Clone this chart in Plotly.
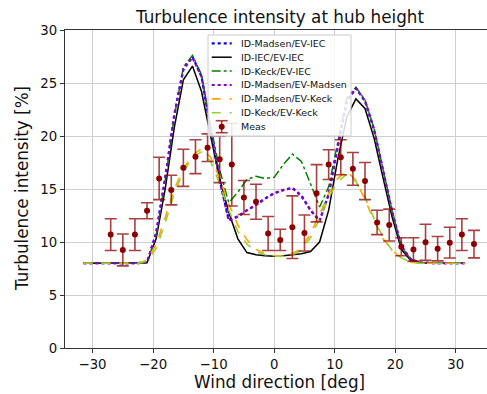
import plotly.graph_objects as go

# model wind directions (deg)
model_dir = [-31.5, -30, -28.5, -27, -25.5, -24, -22.5, -21, -19.5, -18, -16.5, -15, -13.5, -12,
             -10.5, -9, -7.5, -6, -4.5, -3, -1.5, 0, 1.5, 3, 4.5, 6, 7.5, 9, 10.5, 12, 13.5, 15,
             16.5, 18, 19.5, 21, 22.5, 24, 25.5, 27, 28.5, 30, 31.5]

madsen_iec = [8.0, 8.0, 8.0, 8.0, 8.0, 8.0, 8.0, 8.1, 10.8, 16.0, 22.0, 26.3, 27.5, 25.6,
              20.8, 15.8, 12.1, 12.4, 13.0, 13.5, 14.1, 14.6, 14.9, 15.1, 14.4, 13.0, 12.0, 14.5,
              19.0, 23.3, 24.5, 23.3, 20.6, 16.8, 12.8, 9.6, 8.4, 8.05, 8.0, 8.0, 8.0, 8.0, 8.0]
iec_iec = [8.0, 8.0, 8.0, 8.0, 8.0, 8.0, 8.0, 8.05, 10.3, 15.0, 20.8, 25.3, 26.6, 24.2,
           20.0, 16.0, 12.8, 10.3, 9.0, 8.8, 8.7, 8.65, 8.7, 8.8, 8.9, 9.1, 10.0, 13.0,
           17.8, 21.8, 23.5, 22.6, 19.8, 16.0, 12.3, 9.3, 8.3, 8.05, 8.0, 8.0, 8.0, 8.0, 8.0]
keck_iec = [8.0, 8.0, 8.0, 8.0, 8.0, 8.0, 8.0, 8.1, 10.6, 15.8, 21.8, 26.5, 27.6, 25.8,
            21.0, 16.8, 13.7, 14.7, 15.9, 16.2, 16.0, 16.1, 17.3, 18.3, 17.6, 15.5, 13.3, 15.2,
            19.4, 23.6, 24.6, 23.4, 20.7, 16.9, 12.9, 9.6, 8.4, 8.05, 8.0, 8.0, 8.0, 8.0, 8.0]
madsen_madsen = [8.0, 8.0, 8.0, 8.0, 8.0, 8.0, 8.0, 8.1, 10.8, 16.0, 22.0, 26.3, 27.4, 25.6,
                 20.8, 15.8, 12.0, 12.4, 13.0, 13.5, 14.1, 14.6, 14.9, 15.1, 14.3, 13.0, 12.0, 14.5,
                 19.0, 23.3, 24.5, 23.3, 20.6, 16.8, 12.8, 9.6, 8.4, 8.05, 8.0, 8.0, 8.0, 8.0, 8.0]
madsen_keck = [8.0, 8.0, 8.0, 8.0, 8.0, 8.0, 8.0, 8.3, 9.8, 12.3, 15.0, 16.9, 18.2, 18.8,
               18.0, 16.0, 13.6, 11.6, 10.2, 9.3, 8.9, 8.7, 8.7, 8.9, 9.4, 10.8, 12.6, 14.6,
               16.0, 16.7, 15.8, 14.0, 12.0, 10.3, 9.2, 8.5, 8.1, 8.0, 8.0, 8.0, 8.0, 8.0, 8.0]
keck_keck = [8.0, 8.0, 8.0, 8.0, 8.0, 8.0, 8.0, 8.2, 9.4, 11.8, 14.6, 16.6, 18.0, 18.5,
             17.6, 15.5, 13.0, 11.0, 9.8, 9.1, 8.8, 8.65, 8.65, 8.8, 9.2, 10.4, 12.2, 14.2,
             15.7, 16.4, 15.7, 14.2, 12.2, 10.4, 9.2, 8.5, 8.1, 8.0, 8.0, 8.0, 8.0, 8.0, 8.0]

# measurements
meas_dir = [-27, -25, -23, -21, -19, -17, -15, -13, -11, -9, -7, -5, -3, -1, 1, 3, 5, 7, 9,
            11, 13, 15, 17, 19, 21, 23, 25, 27, 29, 31, 33]
meas_ti = [10.7, 9.25, 10.7, 12.95, 16.0, 14.9, 17.0, 18.05, 18.9, 17.8, 17.3, 14.2, 13.8, 10.8,
           10.2, 11.4, 10.85, 14.6, 17.3, 18.0, 16.9, 15.75, 11.85, 11.6, 9.55, 9.3, 9.97, 9.37,
           9.94, 10.7, 9.8]
meas_err = [1.5, 1.5, 1.5, 0.75, 2.0, 1.4, 1.75, 1.6, 1.3, 2.2, 3.9, 1.6, 1.65, 1.6,
            1.0, 2.95, 1.7, 2.7, 1.4, 1.65, 1.55, 1.75, 1.15, 1.5, 0.85, 1.1, 1.7, 1.15,
            1.45, 1.5, 1.3]

x_ticks = [-30, -20, -10, 0, 10, 20, 30]
x_tick_text = ["\u221230", "\u221220", "\u221210", "0", "10", "20", "30"]
y_ticks = [0, 5, 10, 15, 20, 25, 30]

FONT = "DejaVu Sans"
W, H = 487, 394
ML, MR, MT, MB = 65, 0, 30, 46
PW, PH = W - ML - MR, H - MT - MB


def px(X):
    return (X - ML) / PW


def py(Y):
    return (H - MB - Y) / PH


fig = go.Figure()

series = [
    ("ID-Madsen/EV-IEC", madsen_iec, "#0000ff", "dot", 2.2),
    ("ID-IEC/EV-IEC", iec_iec, "#000000", "solid", 1.5),
    ("ID-Keck/EV-IEC", keck_iec, "#008000", "dashdot", 1.5),
    ("ID-Madsen/EV-Madsen", madsen_madsen, "#8a00c8", "dot", 2.2),
    ("ID-Madsen/EV-Keck", madsen_keck, "#ffa500", "dash", 1.6),
    ("ID-Keck/EV-Keck", keck_keck, "#9acd32", "dash", 1.6),
]
for name, ys, col, dash, w in series:
    fig.add_trace(go.Scatter(x=model_dir, y=ys, mode="lines", name=name, showlegend=False,
                             line=dict(color=col, dash=dash, width=w)))

MEAS_COL = "#8b0000"
ERR_COL = "rgba(139,0,0,0.75)"
fig.add_trace(go.Scatter(
    x=meas_dir, y=meas_ti, mode="markers", name="Meas", showlegend=False,
    marker=dict(color=MEAS_COL, size=6),
    error_y=dict(type="data", array=meas_err, visible=True,
                 color=ERR_COL, thickness=1.6, width=6),
))

# ---- hand-built legend (matplotlib-like compact box) ----
shapes = []
annotations = []
LX0, LX1, LY0, LY1 = 208, 351, 35, 136
shapes.append(dict(type="rect", xref="paper", yref="paper",
                   x0=px(LX0), x1=px(LX1), y0=py(LY1), y1=py(LY0),
                   fillcolor="rgba(255,255,255,0.85)", line=dict(color="#cccccc", width=1),
                   layer="above"))
row0, drow = 43.3, 13.9
for i, (name, _, col, dash, w) in enumerate(series):
    Y = row0 + drow * i
    shapes.append(dict(type="line", xref="paper", yref="paper",
                       x0=px(211.7), x1=px(231.7), y0=py(Y), y1=py(Y),
                       line=dict(color=col, dash=dash, width=w), layer="above"))
    annotations.append(dict(text=name, xref="paper", yref="paper", x=px(239), y=py(Y),
                            xanchor="left", yanchor="middle", showarrow=False,
                            font=dict(family=FONT, size=9.5, color="#111")))
Y = row0 + drow * len(series)
XC = 221.7
shapes.append(dict(type="line", xref="paper", yref="paper", x0=px(XC), x1=px(XC),
                   y0=py(Y - 6), y1=py(Y + 6), line=dict(color=ERR_COL, width=1.6), layer="above"))
for dy in (-6, 6):
    shapes.append(dict(type="line", xref="paper", yref="paper", x0=px(XC - 6), x1=px(XC + 6),
                       y0=py(Y + dy), y1=py(Y + dy), line=dict(color=ERR_COL, width=1.6),
                       layer="above"))
shapes.append(dict(type="circle", xref="paper", yref="paper", x0=px(XC - 3), x1=px(XC + 3),
                   y0=py(Y + 3), y1=py(Y - 3), fillcolor=MEAS_COL, line=dict(color=MEAS_COL, width=0),
                   layer="above"))
annotations.append(dict(text="Meas", xref="paper", yref="paper", x=px(239), y=py(Y),
                        xanchor="left", yanchor="middle", showarrow=False,
                        font=dict(family=FONT, size=9.5, color="#111")))

# titles as annotations
annotations.append(dict(text="Turbulence intensity at hub height", xref="paper", yref="paper",
                        x=px(279), y=py(17), xanchor="center", yanchor="middle", showarrow=False,
                        font=dict(family=FONT, size=16.8, color="#111")))
annotations.append(dict(text="Wind direction [deg]", xref="paper", yref="paper",
                        x=px(279), y=py(382), xanchor="center", yanchor="middle", showarrow=False,
                        font=dict(family=FONT, size=16.8, color="#111")))
annotations.append(dict(text="Turbulence intensity [%]", xref="paper", yref="paper",
                        x=px(22), y=0.5, xanchor="center", yanchor="middle", showarrow=False,
                        textangle=-90, font=dict(family=FONT, size=16.8, color="#111")))

axis_common = dict(
    showline=True, linecolor="#333", linewidth=1.2,
    ticks="outside", ticklen=4, tickcolor="#333", tickwidth=1.2,
    showgrid=True, gridcolor="#cfcfcf", gridwidth=1.2, zeroline=False,
    tickfont=dict(family=FONT, size=13.3, color="#111"),
)
fig.update_xaxes(range=[-34.55, 35.15], tickvals=x_ticks, ticktext=x_tick_text,
                 mirror=True, automargin=False, **axis_common)
fig.update_yaxes(range=[0, 30], tickvals=y_ticks, mirror=False, automargin=False, **axis_common)

fig.update_layout(
    width=W, height=H,
    margin=dict(l=ML, r=MR, t=MT, b=MB),
    paper_bgcolor="white", plot_bgcolor="white",
    showlegend=False,
    shapes=shapes,
    annotations=annotations,
)

fig.write_html("out.html", config={"displayModeBar": False},
               post_script="document.body.style.margin='0px';")
